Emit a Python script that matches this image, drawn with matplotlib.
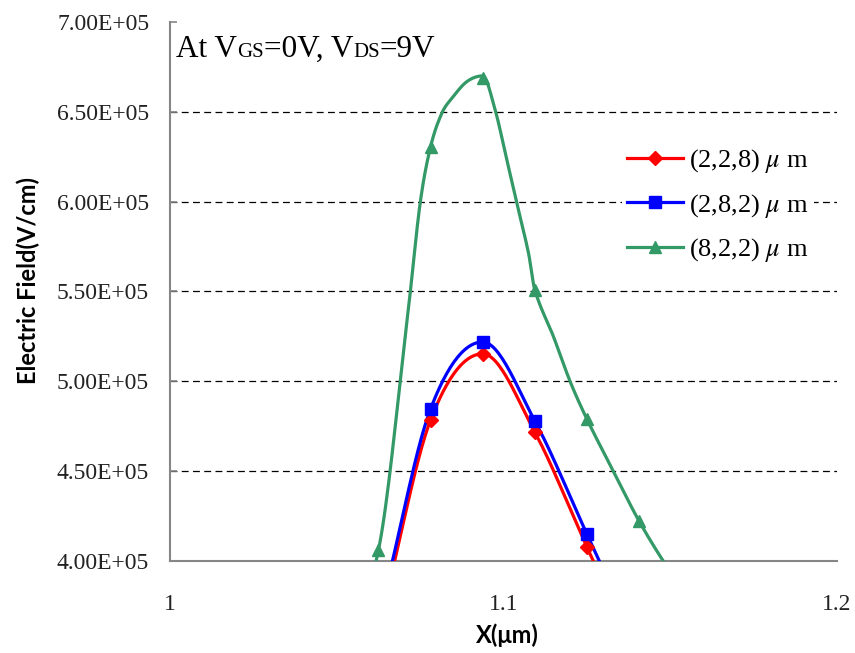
import numpy as np
import matplotlib
matplotlib.use('Agg')
import matplotlib.pyplot as plt

plt.rcParams['mathtext.fontset'] = 'stix'

# Datos (x en um, campo en V/cm)
x_pos = [1.046875, 1.0625, 1.078125, 1.09375, 1.109375, 1.125, 1.140625, 1.15625]
campo_228 = [2.90e5, 3.65e5, 4.785e5, 5.153e5, 4.718e5, 4.078e5, 3.45e5, 2.85e5]
campo_282 = [2.95e5, 3.70e5, 4.846e5, 5.219e5, 4.780e5, 4.150e5, 3.52e5, 2.90e5]
campo_822 = [3.20e5, 4.06e5, 6.305e5, 6.690e5, 5.510e5, 4.790e5, 4.223e5, 3.78e5]

linea_822_x = [1.046875, 1.0625, 1.0715, 1.075, 1.078125, 1.0815, 1.0845, 1.089, 1.09375,
               1.0975, 1.101, 1.104, 1.1075, 1.109375, 1.115, 1.12, 1.125, 1.133,
               1.140625, 1.149, 1.15625]
linea_822_y = [3.20e5, 4.06e5, 5.407e5, 5.991e5, 6.305e5, 6.492e5, 6.575e5, 6.668e5, 6.700e5,
               6.510e5, 6.232e5, 5.991e5, 5.713e5, 5.510e5, 5.248e5, 4.998e5, 4.790e5, 4.497e5,
               4.223e5, 3.968e5, 3.78e5]

etiquetas = [r'(2,2,8) $\mu$ m', r'(2,8,2) $\mu$ m', r'(8,2,2) $\mu$ m']
colores = ['#FF0000', '#0000FF', '#339966']
marcadores = ['D', 's', '^']
y_ticks = [4.0e5, 4.5e5, 5.0e5, 5.5e5, 6.0e5, 6.5e5, 7.0e5]
x_ticks = [1.0, 1.1, 1.2]
x_labels = ['1', '1.1', '1.2']


# Curva suavizada (Catmull-Rom, con pendiente cero en los maximos)
def suavizar(xs, ys, n=30):
    xs = np.asarray(xs, float)
    ys = np.asarray(ys, float)
    h = np.diff(xs)
    d = np.diff(ys) / h
    m = np.zeros_like(ys)
    m[0], m[-1] = d[0], d[-1]
    for i in range(1, len(xs) - 1):
        if d[i - 1] * d[i] > 0:
            m[i] = (ys[i + 1] - ys[i - 1]) / (xs[i + 1] - xs[i - 1])
    out_x, out_y = [], []
    t = np.linspace(0, 1, n)
    for i in range(len(xs) - 1):
        h00 = 2 * t ** 3 - 3 * t ** 2 + 1
        h10 = t ** 3 - 2 * t ** 2 + t
        h01 = -2 * t ** 3 + 3 * t ** 2
        h11 = t ** 3 - t ** 2
        out_x.extend(xs[i] + t * h[i])
        out_y.extend(h00 * ys[i] + h10 * h[i] * m[i] + h01 * ys[i + 1] + h11 * h[i] * m[i + 1])
    return np.array(out_x), np.array(out_y)


fig = plt.figure(figsize=(8.55, 6.53), dpi=100)
ax = fig.add_axes([0.1988, 0.1409, 0.7802, 0.8254])

lineas = [(x_pos, campo_228), (x_pos, campo_282), (linea_822_x, linea_822_y)]
series = [campo_228, campo_282, campo_822]
for (lx, ly), ys, lab, col, mk in zip(lineas, series, etiquetas, colores, marcadores):
    ms = 7.5 if mk == 'D' else 9
    sx, sy = suavizar(lx, ly)
    ax.plot(sx, sy, color=col, lw=2.3, zorder=3)
    ax.plot(x_pos, ys, linestyle='none', marker=mk, color=col, markersize=ms, zorder=4)
    ax.plot([], [], color=col, lw=2.3, marker=mk, markersize=ms, label=lab)

ax.set_xlim(1.0, 1.2)
ax.set_ylim(4.0e5, 7.0e5)

for yv in y_ticks[1:-1]:
    ax.axhline(yv, color='black', lw=0.9, linestyle=(0, (5.5, 3.5)), zorder=1)

ax.set_yticks(y_ticks)
ax.set_yticklabels(['%.2E' % v for v in y_ticks], family='Liberation Serif', fontsize=17, color='#222222')
ax.set_xticks(x_ticks)
ax.set_xticklabels(x_labels, family='Liberation Serif', fontsize=17, color='#222222')
ax.tick_params(axis='y', direction='in', length=5, width=1.2, color='#868686', pad=15)
ax.tick_params(axis='x', length=0, pad=24)

for s in ['top', 'right']:
    ax.spines[s].set_visible(False)
for s in ['left', 'bottom']:
    ax.spines[s].set_color('#868686')
    ax.spines[s].set_linewidth(1.5)

fig.text(507 / 855, 1 - 635 / 653, 'X(μm)', family=['Lato', 'DejaVu Sans'], fontweight='bold',
         fontsize=17, ha='center', va='center')
fig.text(28 / 855, 1 - 281 / 653, 'Electric Field(V/cm)', family=['Lato', 'DejaVu Sans'],
         fontweight='bold', fontsize=17, rotation=90, ha='center', va='center')

leg = ax.legend(loc='upper left', bbox_to_anchor=(0.7275, 0.783), bbox_transform=fig.transFigure,
                prop={'family': 'Liberation Serif', 'size': 19}, handlelength=2.1,
                labelspacing=0.63, handletextpad=0.25, borderpad=0.2, borderaxespad=0,
                frameon=True, fancybox=False, edgecolor='none', facecolor='white', framealpha=1)

# Titulo con "GS" y "DS" en letra mas chica
partes = [('At V', 22.5), ('GS', 15), ('=0V, V', 22.5), ('DS', 15), ('=9V', 22.5)]
renderer = fig.canvas.get_renderer()
x0 = 176 / 855
y0 = 1 - 57 / 653
for txt, sz in partes:
    t = fig.text(x0, y0, txt, family='Liberation Serif', fontsize=sz, va='baseline', ha='left')
    bb = t.get_window_extent(renderer)
    x0 = bb.x1 / fig.bbox.width

fig.savefig('out.png', dpi=100)
